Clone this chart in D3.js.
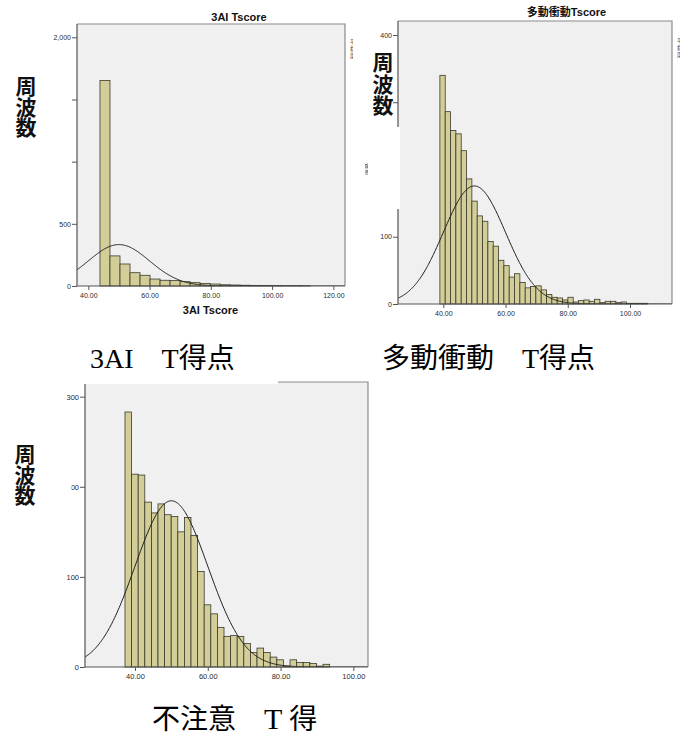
<!DOCTYPE html>
<html>
<head>
<meta charset="utf-8">
<script src="https://cdn.jsdelivr.net/npm/d3@7"></script>
<style>
  body { margin: 0; background: #fff; }
  svg { display: block; }
  .big { font-family: "Liberation Serif", "Noto Sans CJK JP", serif; white-space: pre; fill: #000; }
  .freq { font-family: "Noto Sans CJK JP", sans-serif; font-weight: 700; fill: #111;
          writing-mode: vertical-rl; text-orientation: upright; }
  .title { font-family: Arial, "Liberation Sans", "Noto Sans CJK JP", sans-serif; font-weight: 700; fill: #111; }
</style>
</head>
<body>
<svg id="chart" width="690" height="735"></svg>
<script>
const svg = d3.select("#chart");

// T scores: mean 50, sd 10 (used for the fitted normal curve)
const tMean = 50;
const tSd = 10;

// 3AI Tscore histogram
const aiStart = 43.8;
const aiBin = 3.27;
const aiCounts = [1653, 242, 177, 107, 86, 56, 46, 45, 35, 27, 21, 16, 10, 8, 6, 5, 4, 3, 2, 2, 1];
const aiXTicks = [40, 60, 80, 100, 120];
const aiYTicks = [0, 500, 1000, 1500, 2000];
const aiYLabels = [0, 500, 2000];

// 多動衝動Tscore histogram
const hiStart = 38.9;
const hiBin = 1.714;
const hiCounts = [340, 286, 258, 253, 228, 186, 153, 131, 123, 93, 86, 65, 57, 40, 45, 32, 24, 26, 27, 21,
                  14, 10, 9, 6, 10, 3, 5, 6, 4, 7, 2, 4, 4, 2, 3, 1, 1, 1, 1];
const hiXTicks = [40, 60, 80, 100];
const hiYTicks = [0, 100, 200, 300, 400];
const hiYLabels = [0, 100, 400];

// 不注意 histogram
const inStart = 37.25;
const inBin = 1.814;
const inCounts = [283, 214, 213, 183, 171, 181, 169, 167, 150, 166, 146, 106, 69, 59, 44, 34, 35, 34, 26, 16,
                  21, 16, 11, 8, 1, 8, 5, 5, 4, 1, 3];
const inXTicks = [40, 60, 80, 100];
const inYTicks = [0, 100, 200, 300];
const inYLabels = [0, 100, 200, 300];

const defs = svg.append("defs");

function drawHist(o) {
  const g = svg.append("g");
  const x = d3.scaleLinear().domain(o.xDomain).range([o.left, o.right]);
  const y = d3.scaleLinear().domain([0, o.yMax]).range([o.bottom, o.top]);

  defs.append("clipPath").attr("id", "clip-" + o.id)
    .append("rect")
    .attr("x", o.left).attr("y", o.top)
    .attr("width", o.right - o.left).attr("height", o.bottom - o.top);

  g.append("rect")
    .attr("x", o.left).attr("y", o.top)
    .attr("width", o.right - o.left).attr("height", o.bottom - o.top)
    .attr("fill", "#f0f0f0");

  g.append("g").selectAll("rect")
    .data(o.counts)
    .join("rect")
    .attr("x", (d, i) => x(o.start + i * o.bin))
    .attr("width", (d, i) => x(o.start + (i + 1) * o.bin) - x(o.start + i * o.bin))
    .attr("y", d => y(d))
    .attr("height", d => y(0) - y(d))
    .attr("fill", "#d3ce97")
    .attr("stroke", "#3a3a30")
    .attr("stroke-width", 0.8);

  // fitted normal curve
  const n = d3.sum(o.counts);
  const k = n * o.bin / (tSd * Math.sqrt(2 * Math.PI));
  const pts = d3.range(o.xDomain[0], o.xDomain[1] + 0.2, 0.2)
    .map(v => [v, k * Math.exp(-0.5 * ((v - tMean) / tSd) ** 2)]);
  g.append("path")
    .datum(pts)
    .attr("clip-path", "url(#clip-" + o.id + ")")
    .attr("d", d3.line().x(d => x(d[0])).y(d => y(d[1])))
    .attr("fill", "none")
    .attr("stroke", "#1a1a1a")
    .attr("stroke-width", 1);

  // frame: top and right lighter, axes darker
  g.append("path")
    .attr("d", `M${o.left},${o.top}H${o.right}V${o.bottom}`)
    .attr("fill", "none").attr("stroke", "#8a8a8a").attr("stroke-width", 1.2);
  g.append("path")
    .attr("d", `M${o.left},${o.top}V${o.bottom}H${o.right}`)
    .attr("fill", "none").attr("stroke", "#555").attr("stroke-width", 1.2);

  const yAxis = d3.axisLeft(y)
    .tickValues(o.yTicks)
    .tickSize(5).tickSizeOuter(0).tickPadding(1)
    .tickFormat(d => o.yLabels.includes(d) ? d3.format(",")(d) : "");
  g.append("g")
    .attr("transform", `translate(${o.left},0)`)
    .call(yAxis)
    .call(a => a.select(".domain").remove())
    .call(a => a.selectAll("line").attr("stroke", "#555"))
    .call(a => a.selectAll("text")
      .attr("font-family", "Arial, 'Liberation Sans', sans-serif")
      .attr("font-size", o.font).attr("fill", "#2b2b2b"));

  const xAxis = d3.axisBottom(x)
    .tickValues(o.xTicks)
    .tickSize(4).tickSizeOuter(0).tickPadding(3)
    .tickFormat(d3.format(".2f"));
  g.append("g")
    .attr("transform", `translate(0,${o.bottom})`)
    .call(xAxis)
    .call(a => a.select(".domain").remove())
    .call(a => a.selectAll("line").attr("stroke", "#555"))
    .call(a => a.selectAll("text")
      .attr("font-family", "Arial, 'Liberation Sans', sans-serif")
      .attr("font-size", o.font).attr("fill", "#2b2b2b"));
}

drawHist({
  id: "ai", left: 77, right: 345, top: 24, bottom: 286,
  xDomain: [36.3, 123.8], yMax: 2107, font: 7,
  start: aiStart, bin: aiBin, counts: aiCounts,
  xTicks: aiXTicks, yTicks: aiYTicks, yLabels: aiYLabels
});
drawHist({
  id: "hi", left: 398, right: 672, top: 21, bottom: 304,
  xDomain: [25.44, 113.5], yMax: 420.8, font: 7,
  start: hiStart, bin: hiBin, counts: hiCounts,
  xTicks: hiXTicks, yTicks: hiYTicks, yLabels: hiYLabels
});
drawHist({
  id: "in", left: 85, right: 368, top: 382, bottom: 667,
  xDomain: [26.26, 104.03], yMax: 316.3, font: 7.5,
  start: inStart, bin: inBin, counts: inCounts,
  xTicks: inXTicks, yTicks: inYTicks, yLabels: inYLabels
});

// white patches from the pasted screenshot
svg.append("rect").attr("x", 355).attr("y", 127).attr("width", 45).attr("height", 82).attr("fill", "#fff");
svg.append("rect").attr("x", 0).attr("y", 370).attr("width", 278).attr("height", 14).attr("fill", "#fff");
svg.append("rect").attr("x", 60).attr("y", 481).attr("width", 11.5).attr("height", 12).attr("fill", "#fff");

// chart titles
svg.append("text").attr("class", "title").attr("x", 239).attr("y", 20.5)
  .attr("text-anchor", "middle").attr("font-size", 11).text("3AI Tscore");
svg.append("text").attr("class", "title").attr("x", 210.5).attr("y", 314)
  .attr("text-anchor", "middle").attr("font-size", 11).text("3AI Tscore");
svg.append("text").attr("class", "title").attr("x", 566.5).attr("y", 16)
  .attr("text-anchor", "middle").attr("font-size", 11).text("多動衝動Tscore");

// cut-off legend / axis-title slivers
function sliver(id, cx, cy, w, h, lines, rotate) {
  defs.append("clipPath").attr("id", "sl-" + id)
    .append("rect").attr("x", cx).attr("y", cy).attr("width", w).attr("height", h);
  const t = svg.append("g").attr("clip-path", "url(#sl-" + id + ")")
    .append("text")
    .attr("font-family", "Arial, 'Noto Sans CJK JP', sans-serif")
    .attr("font-size", 6).attr("fill", "#444");
  if (rotate) {
    t.attr("transform", `translate(${cx + w - 1},${cy + h}) rotate(-90)`).text(lines[0]);
  } else {
    t.selectAll("tspan").data(lines).join("tspan")
      .attr("x", cx).attr("y", (d, i) => cy + 6 + i * 7).text(d => d);
  }
}
sliver("a", 350, 38, 3, 21, ["平", "標", "度"]);
sliver("b", 677, 37, 3, 21, ["平", "標", "度"]);
sliver("c", 365, 147, 3, 28, ["度数"], true);

// vertical 周波数 labels
function freqLabel(cx, top, spacing) {
  svg.append("text").attr("class", "freq")
    .attr("font-size", 21)
    .attr("letter-spacing", spacing)
    .attr("x", cx).attr("y", top)
    .text("周波数");
}
freqLabel(26, 76, -0.7);
freqLabel(383, 52, 0.3);
freqLabel(25, 444, -0.5);

// captions under the charts
svg.append("text").attr("class", "big").attr("x", 90).attr("y", 368).attr("font-size", 28)
  .text("3AI　T得点");
svg.append("text").attr("class", "big").attr("x", 382).attr("y", 368).attr("font-size", 28)
  .text("多動衝動　T得点");
const cap = svg.append("text").attr("class", "big").attr("x", 152).attr("y", 729).attr("font-size", 28);
cap.append("tspan").text("不注意　");
cap.append("tspan").attr("font-size", 30).text("T ");
cap.append("tspan").text("得");
</script>
</body>
</html>
